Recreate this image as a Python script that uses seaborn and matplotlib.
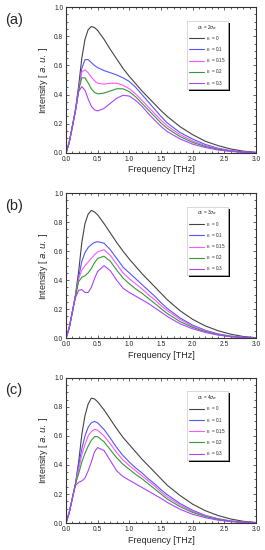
import numpy as np
import pandas as pd
import matplotlib
matplotlib.use("Agg")
import matplotlib.pyplot as plt
from matplotlib.ticker import MultipleLocator, FormatStrFormatter
from matplotlib.patches import Rectangle
from matplotlib.transforms import IdentityTransform
import seaborn as sns

freq = [0, 0.05, 0.1, 0.15, 0.2, 0.25, 0.3, 0.35, 0.4, 0.45, 0.5, 0.6, 0.7, 0.8, 0.9,
        1.0, 1.1, 1.2, 1.3, 1.4, 1.5, 1.6, 1.8, 2.0, 2.2, 2.4, 2.6, 2.8, 3.0]

r_labels = ["0", "0.1", "0.15", "0.2", "0.3"]
panel_names = ["(a)", "(b)", "(c)"]
sigma_mult = ["2", "3", "4"]

# panel (a), sigma = 2 sigma_w
a_r0 = [0, 0.07, 0.18, 0.30, 0.46, 0.65, 0.78, 0.845, 0.867, 0.86, 0.84, 0.78, 0.71, 0.645, 0.58,
        0.525, 0.475, 0.425, 0.38, 0.335, 0.29, 0.25, 0.18, 0.125, 0.08, 0.05, 0.027, 0.012, 0.004]
a_r01 = [0, 0.07, 0.18, 0.29, 0.43, 0.58, 0.64, 0.64, 0.62, 0.60, 0.585, 0.565, 0.55, 0.535, 0.515,
         0.49, 0.45, 0.40, 0.35, 0.30, 0.25, 0.205, 0.14, 0.095, 0.058, 0.032, 0.016, 0.007, 0.003]
a_r015 = [0, 0.07, 0.18, 0.29, 0.43, 0.555, 0.57, 0.55, 0.52, 0.495, 0.478, 0.472, 0.478, 0.478, 0.465,
          0.44, 0.405, 0.36, 0.315, 0.27, 0.225, 0.185, 0.125, 0.082, 0.05, 0.028, 0.014, 0.006, 0.002]
a_r02 = [0, 0.07, 0.18, 0.29, 0.43, 0.515, 0.515, 0.48, 0.44, 0.415, 0.405, 0.41, 0.425, 0.44, 0.44,
         0.42, 0.385, 0.34, 0.295, 0.25, 0.205, 0.168, 0.112, 0.072, 0.044, 0.025, 0.012, 0.005, 0.002]
a_r03 = [0, 0.07, 0.18, 0.29, 0.42, 0.455, 0.43, 0.37, 0.32, 0.295, 0.288, 0.305, 0.34, 0.375, 0.395,
         0.39, 0.36, 0.32, 0.27, 0.225, 0.182, 0.146, 0.096, 0.06, 0.037, 0.02, 0.01, 0.004, 0.001]

# panel (b), sigma = 3 sigma_w
b_r0 = [0, 0.07, 0.18, 0.30, 0.46, 0.66, 0.79, 0.855, 0.88, 0.87, 0.85, 0.79, 0.725, 0.66, 0.60,
        0.545, 0.495, 0.445, 0.40, 0.355, 0.31, 0.265, 0.19, 0.13, 0.085, 0.052, 0.028, 0.012, 0.004]
b_r01 = [0, 0.07, 0.18, 0.29, 0.42, 0.53, 0.59, 0.625, 0.645, 0.66, 0.665, 0.655, 0.61, 0.55, 0.49,
         0.45, 0.41, 0.37, 0.33, 0.29, 0.245, 0.205, 0.14, 0.09, 0.055, 0.03, 0.015, 0.007, 0.003]
b_r015 = [0, 0.07, 0.18, 0.29, 0.41, 0.47, 0.50, 0.525, 0.55, 0.575, 0.595, 0.61, 0.57, 0.51, 0.45,
          0.41, 0.375, 0.34, 0.30, 0.265, 0.225, 0.19, 0.13, 0.083, 0.05, 0.027, 0.013, 0.006, 0.002]
b_r02 = [0, 0.07, 0.18, 0.29, 0.39, 0.42, 0.43, 0.45, 0.48, 0.52, 0.55, 0.565, 0.53, 0.47, 0.415,
         0.375, 0.34, 0.31, 0.275, 0.24, 0.205, 0.17, 0.115, 0.075, 0.045, 0.025, 0.012, 0.005, 0.002]
b_r03 = [0, 0.07, 0.18, 0.28, 0.33, 0.335, 0.315, 0.315, 0.35, 0.41, 0.46, 0.50, 0.465, 0.40, 0.345,
         0.315, 0.29, 0.265, 0.24, 0.21, 0.18, 0.15, 0.10, 0.065, 0.04, 0.022, 0.01, 0.004, 0.001]

# panel (c), sigma = 4 sigma_w
c_r0 = [0, 0.07, 0.17, 0.27, 0.42, 0.61, 0.74, 0.82, 0.86, 0.855, 0.835, 0.78, 0.715, 0.65, 0.59,
        0.54, 0.49, 0.44, 0.395, 0.35, 0.305, 0.26, 0.19, 0.13, 0.085, 0.052, 0.028, 0.012, 0.004]
c_r01 = [0, 0.07, 0.17, 0.27, 0.40, 0.51, 0.60, 0.66, 0.69, 0.70, 0.69, 0.645, 0.585, 0.52, 0.465,
         0.42, 0.38, 0.345, 0.305, 0.27, 0.23, 0.195, 0.135, 0.088, 0.053, 0.03, 0.015, 0.007, 0.003]
c_r015 = [0, 0.07, 0.17, 0.27, 0.37, 0.47, 0.54, 0.60, 0.63, 0.645, 0.64, 0.60, 0.545, 0.485, 0.435,
          0.395, 0.36, 0.325, 0.29, 0.255, 0.215, 0.18, 0.125, 0.08, 0.05, 0.027, 0.013, 0.006, 0.002]
c_r02 = [0, 0.07, 0.17, 0.27, 0.34, 0.42, 0.48, 0.53, 0.57, 0.595, 0.595, 0.56, 0.505, 0.45, 0.405,
         0.37, 0.335, 0.305, 0.27, 0.235, 0.20, 0.165, 0.113, 0.073, 0.045, 0.025, 0.012, 0.005, 0.002]
c_r03 = [0, 0.07, 0.17, 0.26, 0.28, 0.29, 0.31, 0.36, 0.42, 0.49, 0.52, 0.50, 0.43, 0.36, 0.32,
         0.295, 0.27, 0.245, 0.22, 0.195, 0.17, 0.142, 0.095, 0.06, 0.037, 0.02, 0.01, 0.004, 0.001]

panels = [
    [a_r0, a_r01, a_r015, a_r02, a_r03],
    [b_r0, b_r01, b_r015, b_r02, b_r03],
    [c_r0, c_r01, c_r015, c_r02, c_r03],
]

colors = ["#444444", "#5555ff", "#ff55ff", "#339933", "#aa44ff"]

sns.set_style("ticks")
plt.rcParams["font.family"] = ["Liberation Sans", "DejaVu Sans"]
plt.rcParams["mathtext.fontset"] = "dejavusans"

fig = plt.figure(figsize=(2.65, 5.5), dpi=100)
# axes rectangles [left, bottom, width, height] in figure fraction
rects = [
    [0.249, 0.722, 0.717, 0.265],
    [0.249, 0.385, 0.717, 0.264],
    [0.249, 0.049, 0.717, 0.264],
]

legends = []
for i, curves in enumerate(panels):
    ax = fig.add_axes(rects[i])
    labels = [f"$r_c$ = {r}" for r in r_labels]
    rows = []
    for lab, ys in zip(labels, curves):
        for f, y in zip(freq, ys):
            rows.append({"freq": f, "intensity": y, "r": lab})
    df = pd.DataFrame(rows)
    sns.lineplot(data=df, x="freq", y="intensity", hue="r", palette=colors,
                 hue_order=labels, linewidth=0.8, ax=ax, legend=True)

    ax.set_xlim(0, 3.0)
    ax.set_ylim(0, 1.0)
    ax.xaxis.set_major_locator(MultipleLocator(0.5))
    ax.xaxis.set_minor_locator(MultipleLocator(0.1))
    ax.yaxis.set_major_locator(MultipleLocator(0.2))
    ax.yaxis.set_minor_locator(MultipleLocator(0.05))
    ax.xaxis.set_major_formatter(FormatStrFormatter("%.1f"))
    ax.yaxis.set_major_formatter(FormatStrFormatter("%.1f"))
    ax.tick_params(which="both", direction="in", top=True, right=True, labelsize=4.8,
                   width=0.5, pad=2)
    ax.tick_params(which="major", length=2.5)
    ax.tick_params(which="minor", length=1.3)
    for s in ax.spines.values():
        s.set_linewidth(0.8)
        s.set_color("#333333")

    ax.set_xlabel("Frequency [THz]", fontsize=6.5, labelpad=2)
    ax.set_ylabel("Intensity [ $\\it{a.u.}$ ]", fontsize=6.5, labelpad=3)

    leg = ax.legend(loc="upper right", bbox_to_anchor=(0.853, 0.906), fontsize=3.3,
                    title=f"$\\sigma_x$ = {sigma_mult[i]}$\\sigma_w$", title_fontsize=3.3,
                    frameon=True, fancybox=False, framealpha=1,
                    handlelength=3.4, handletextpad=0.4, labelspacing=0.5,
                    borderpad=0.4, borderaxespad=0)
    leg.get_frame().set_edgecolor("#bbbbbb")
    leg.get_frame().set_facecolor("white")
    leg.get_frame().set_linewidth(0.4)
    for line in leg.get_lines():
        line.set_linewidth(0.8)
    legends.append((ax, leg))

    fig.text(0.02, rects[i][1] + rects[i][3] - 0.01, panel_names[i], fontsize=10.5,
             ha="left", va="top")

# Origin-style solid black drop shadow behind each legend box
fig.canvas.draw()
for ax, leg in legends:
    bb = leg.get_window_extent()
    shadow = Rectangle((bb.x0 + 2, bb.y0 - 2), bb.width, bb.height, transform=IdentityTransform(),
                       facecolor="black", edgecolor="none", zorder=4.9, clip_on=False)
    ax.add_artist(shadow)

fig.savefig("out.png", dpi=100)
